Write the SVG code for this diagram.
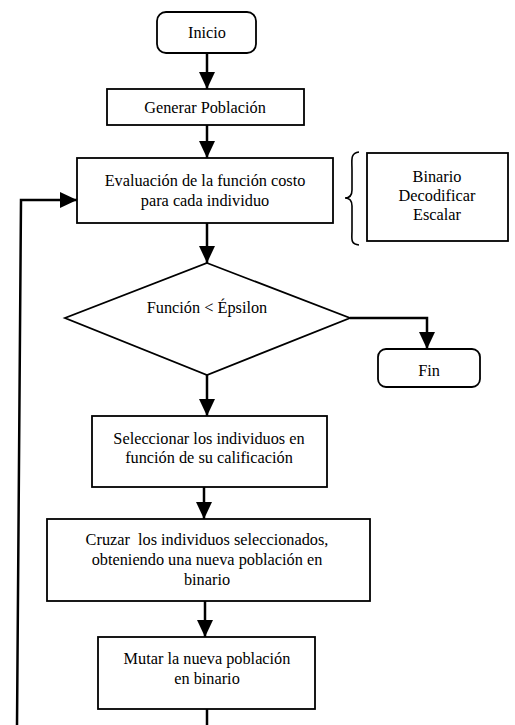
<svg xmlns="http://www.w3.org/2000/svg" width="515" height="725" viewBox="0 0 515 725">
<style>
.box{fill:#fff;stroke:#000;stroke-width:1.8}
.t{font-family:"Liberation Serif","Times New Roman",serif;font-size:16.3px;fill:#000;text-anchor:middle}
.c{fill:none;stroke:#000;stroke-width:2.5}
</style>
<defs>
<marker id="ah" markerUnits="userSpaceOnUse" markerWidth="17" markerHeight="16" refX="17" refY="8" orient="auto">
<path d="M0,0 L17,8 L0,16 z" fill="#000"/>
</marker>
</defs>
<rect width="515" height="725" fill="#fff"/>
<g id="connectors">
<line class="c" x1="207" y1="53" x2="207" y2="89" marker-end="url(#ah)"/>
<line class="c" x1="207" y1="125" x2="207" y2="158" marker-end="url(#ah)"/>
<line class="c" x1="207" y1="223" x2="207" y2="263" marker-end="url(#ah)"/>
<polyline class="c" points="350,318 427,318 427,349" marker-end="url(#ah)"/>
<line class="c" x1="207" y1="375" x2="207" y2="416" marker-end="url(#ah)"/>
<line class="c" x1="204" y1="487" x2="204" y2="519" marker-end="url(#ah)"/>
<line class="c" x1="205" y1="601" x2="205" y2="637" marker-end="url(#ah)"/>
<line class="c" x1="207" y1="709" x2="207" y2="726"/>
<polyline class="c" points="17,726 21,200 77,200" marker-end="url(#ah)"/>
</g>
<g id="inicio">
<rect class="box" x="157" y="12" width="99" height="41" rx="9"/>
<text class="t" x="207" y="38">Inicio</text>
</g>
<g id="generar">
<rect class="box" x="107" y="89" width="197" height="36"/>
<text class="t" x="205" y="113">Generar Población</text>
</g>
<g id="evaluacion">
<rect class="box" x="77" y="158" width="256" height="65"/>
<text class="t" x="205" y="186">Evaluación de la función costo</text>
<text class="t" x="205" y="206">para cada individuo</text>
</g>
<g id="brace">
<path d="M359,152 C350,153 352,160 352,170 L352,190 C352,196 349,198 345,198 C349,198 352,200 352,206 L352,230 C352,239 350,244 359,245" fill="none" stroke="#000" stroke-width="1.6"/>
</g>
<g id="binario">
<rect class="box" x="367" y="153" width="141" height="88"/>
<text class="t" x="437" y="182">Binario</text>
<text class="t" x="437" y="201">Decodificar</text>
<text class="t" x="437" y="220">Escalar</text>
</g>
<g id="decision">
<polygon class="box" points="207,263 350,318 207,375 65,318"/>
<text class="t" x="207" y="313">Función &lt; Épsilon</text>
</g>
<g id="fin">
<rect class="box" x="378" y="349" width="102" height="38" rx="8"/>
<text class="t" x="429" y="376">Fin</text>
</g>
<g id="seleccionar">
<rect class="box" x="92" y="416" width="235" height="71"/>
<text class="t" x="209" y="444">Seleccionar los individuos en</text>
<text class="t" x="209" y="463">función de su calificación</text>
</g>
<g id="cruzar">
<rect class="box" x="47" y="519" width="323" height="82"/>
<text class="t" x="207" y="545" xml:space="preserve">Cruzar  los individuos seleccionados,</text>
<text class="t" x="207" y="565">obteniendo una nueva población en</text>
<text class="t" x="207" y="585">binario</text>
</g>
<g id="mutar">
<rect class="box" x="98" y="637" width="217" height="72"/>
<text class="t" x="207" y="664">Mutar la nueva población</text>
<text class="t" x="207" y="684">en binario</text>
</g>
</svg>
